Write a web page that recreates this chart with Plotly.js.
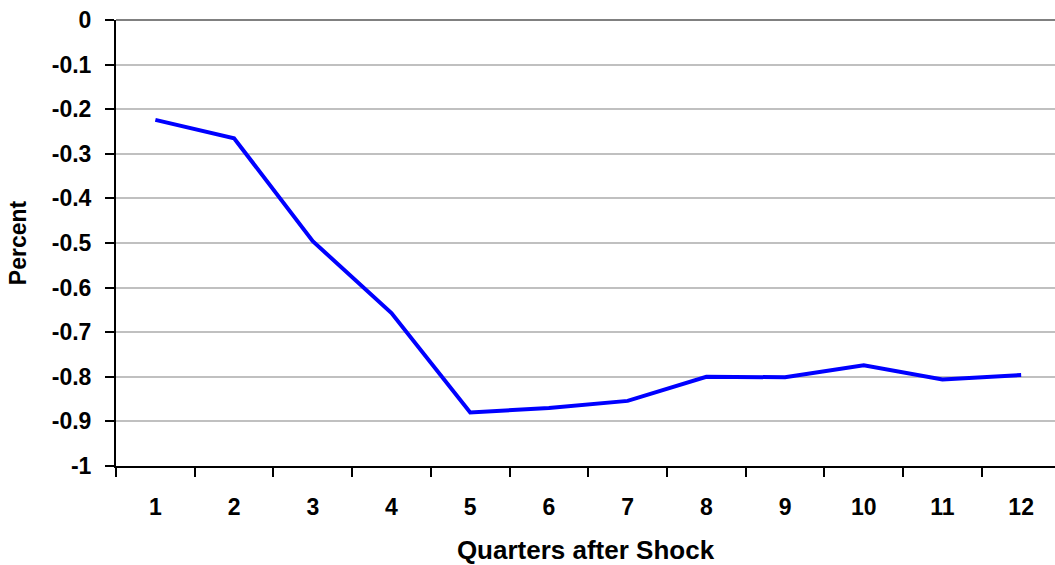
<!DOCTYPE html>
<html>
<head>
<meta charset="utf-8">
<script src="https://cdn.plot.ly/plotly-3.0.1.min.js"></script>
<style>html,body{margin:0;padding:0;background:#fff;}#chart{width:1055px;height:565px;}</style>
</head>
<body>
<div id="chart"></div>
<script>
const quarters = ["1","2","3","4","5","6","7","8","9","10","11","12"];
const percentResponse = [-0.224, -0.265, -0.496, -0.657, -0.880, -0.870, -0.854, -0.800, -0.801, -0.774, -0.806, -0.796];
const yTickVals = [0, -0.1, -0.2, -0.3, -0.4, -0.5, -0.6, -0.7, -0.8, -0.9, -1];
const yTickText = ["0", "-0.1", "-0.2", "-0.3", "-0.4", "-0.5", "-0.6", "-0.7", "-0.8", "-0.9", "-1"];

const fam = "Liberation Sans, Arial, sans-serif";

Plotly.newPlot("chart", [{
  x: quarters,
  y: percentResponse,
  type: "scatter",
  mode: "lines",
  line: {color: "#0000FF", width: 4},
  hoverinfo: "skip"
}], {
  width: 1055, height: 565,
  margin: {l: 116, r: 0, t: 20, b: 99},
  paper_bgcolor: "#fff", plot_bgcolor: "#fff",
  showlegend: false,
  font: {family: fam, size: 23, color: "#000"},
  xaxis: {
    type: "category",
    range: [-0.5, 11.43],
    tickson: "boundaries",
    ticks: "outside", ticklen: 9, tickwidth: 2, tickcolor: "#000",
    showline: true, linecolor: "#000", linewidth: 2,
    showgrid: false, zeroline: false,
    tickfont: {family: fam, size: 23, color: "#000", weight: "bold"},
    ticklabelstandoff: 19,
    title: {text: "<b>Quarters after Shock</b>", font: {family: fam, size: 26, color: "#000"}, standoff: 24}
  },
  yaxis: {
    range: [-1, 0],
    tickvals: yTickVals, ticktext: yTickText,
    ticks: "outside", ticklen: 9, tickwidth: 2, tickcolor: "#000",
    showline: true, linecolor: "#000", linewidth: 2,
    showgrid: true, gridcolor: "#c0c0c0", gridwidth: 2,
    zeroline: true, zerolinecolor: "#808080", zerolinewidth: 2,
    tickfont: {family: fam, size: 23, color: "#000", weight: "bold"},
    ticklabelstandoff: 9,
    title: {text: "<b>Percent</b>", font: {family: fam, size: 23, color: "#000"}, standoff: 19}
  }
}, {displayModeBar: false, staticPlot: true});
</script>
</body>
</html>
